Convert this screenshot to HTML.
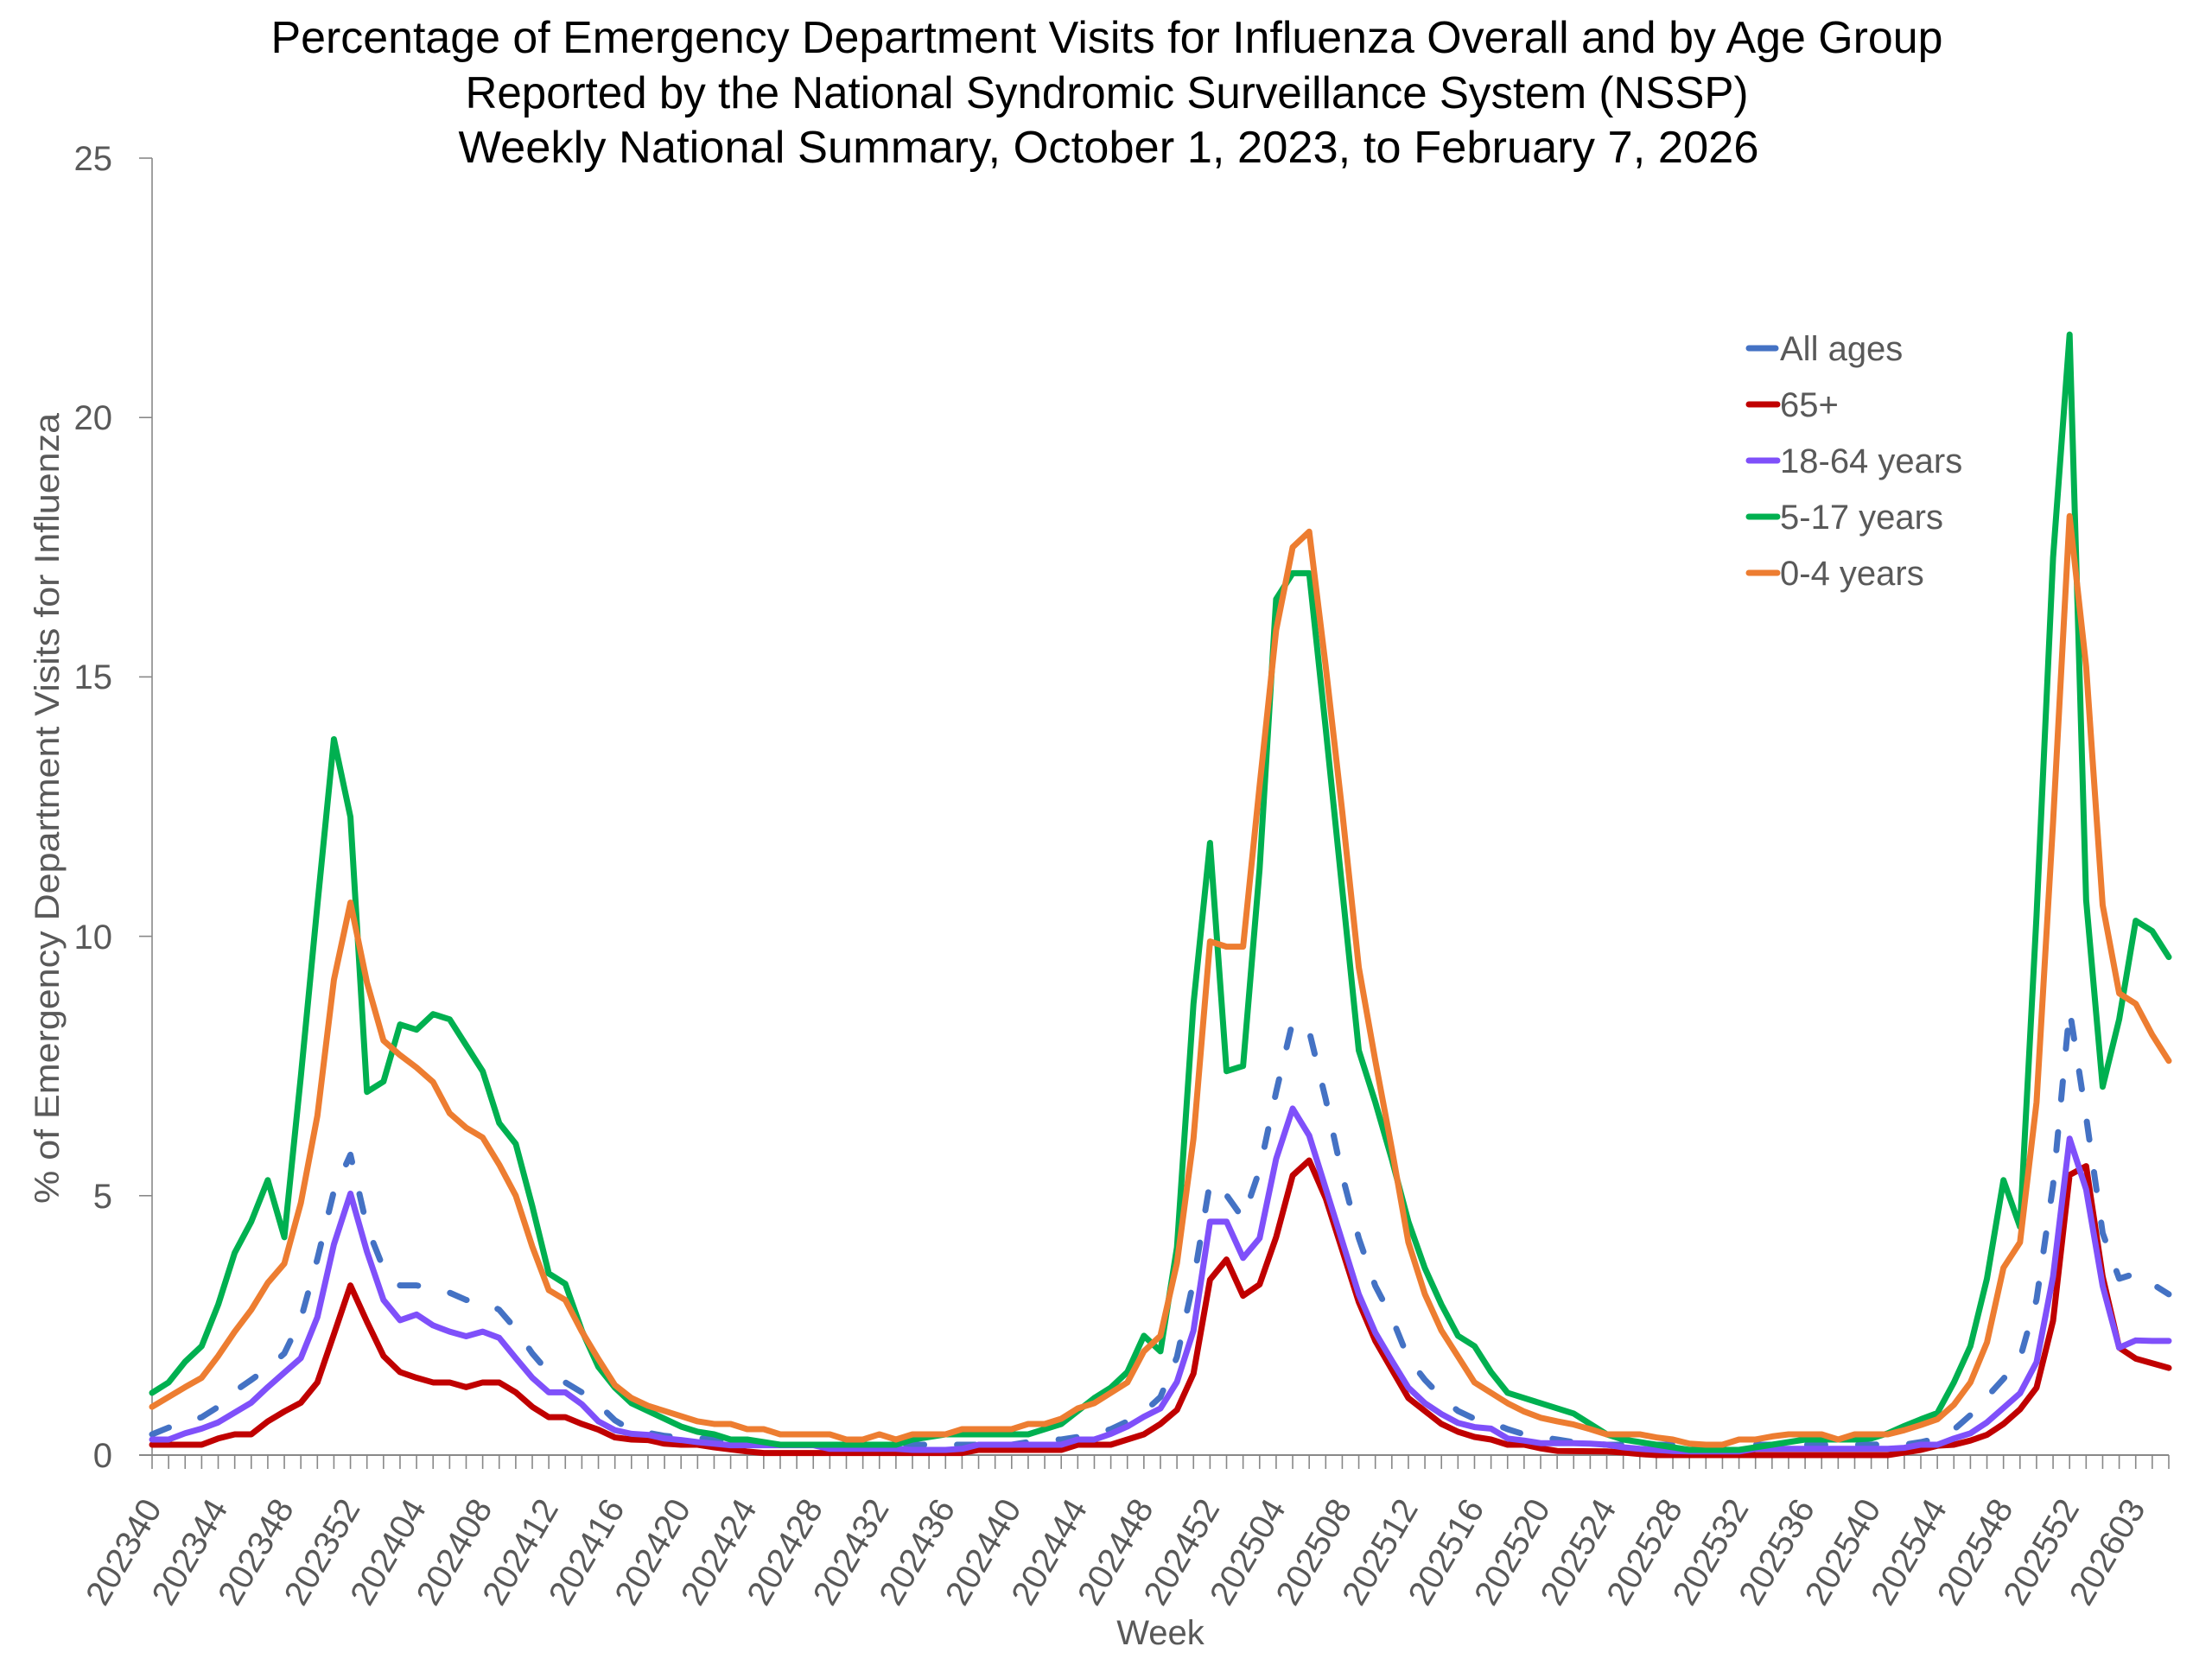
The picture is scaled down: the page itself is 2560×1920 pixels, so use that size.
<!DOCTYPE html>
<html>
<head>
<meta charset="utf-8">
<style>
  html,body{margin:0;padding:0;background:#fff;}
  svg{display:block;}
  text{font-family:"Liberation Sans", Arial, sans-serif;}
</style>
</head>
<body>
<svg width="2560" height="1920" viewBox="0 0 2560 1920" xmlns="http://www.w3.org/2000/svg">
  <rect width="2560" height="1920" fill="#fff"/>

  <!-- Title -->
  <g fill="#000" font-size="52" text-anchor="middle">
    <text x="1281" y="61" textLength="1935" lengthAdjust="spacingAndGlyphs">Percentage of Emergency Department Visits for Influenza Overall and by Age Group</text>
    <text x="1281" y="125" textLength="1485" lengthAdjust="spacingAndGlyphs">Reported by the National Syndromic Surveillance System (NSSP)</text>
    <text x="1283" y="188" textLength="1505" lengthAdjust="spacingAndGlyphs">Weekly National Summary, October 1, 2023, to February 7, 2026</text>
  </g>

  <!-- Y axis title -->
  <text transform="translate(68,935.5) rotate(-90)" text-anchor="middle" font-size="40" fill="#595959" textLength="915" lengthAdjust="spacingAndGlyphs">% of Emergency Department Visits for Influenza</text>

  <!-- Axes -->
  <g stroke="#888" stroke-width="1.6" fill="none">
    <line x1="176" y1="183" x2="176" y2="1684"/>
    <line x1="161" y1="1684" x2="2510" y2="1684" stroke-width="2"/>
    <line x1="161" y1="183" x2="176" y2="183"/>
    <line x1="161" y1="483.2" x2="176" y2="483.2"/>
    <line x1="161" y1="783.4" x2="176" y2="783.4"/>
    <line x1="161" y1="1083.6" x2="176" y2="1083.6"/>
    <line x1="161" y1="1383.8" x2="176" y2="1383.8"/>
  </g>
  <!-- x ticks: every week -->
  <line x1="175.2" y1="1692" x2="2512" y2="1692" stroke="#888" stroke-width="16" stroke-dasharray="1.6 17.531"/>

  <!-- Y tick labels -->
  <g font-size="40" fill="#595959" text-anchor="end">
    <text x="130" y="1698">0</text>
    <text x="130" y="1398">5</text>
    <text x="130" y="1098">10</text>
    <text x="130" y="797">15</text>
    <text x="130" y="497">20</text>
    <text x="130" y="197">25</text>
  </g>

  <!-- X tick labels -->
  <g font-size="40" fill="#595959" text-anchor="end">
    <text transform="translate(176,1738) rotate(-60)" dy="14">202340</text>
    <text transform="translate(252.5,1738) rotate(-60)" dy="14">202344</text>
    <text transform="translate(329.0,1738) rotate(-60)" dy="14">202348</text>
    <text transform="translate(405.6,1738) rotate(-60)" dy="14">202352</text>
    <text transform="translate(482.1,1738) rotate(-60)" dy="14">202404</text>
    <text transform="translate(558.6,1738) rotate(-60)" dy="14">202408</text>
    <text transform="translate(635.1,1738) rotate(-60)" dy="14">202412</text>
    <text transform="translate(711.7,1738) rotate(-60)" dy="14">202416</text>
    <text transform="translate(788.2,1738) rotate(-60)" dy="14">202420</text>
    <text transform="translate(864.7,1738) rotate(-60)" dy="14">202424</text>
    <text transform="translate(941.2,1738) rotate(-60)" dy="14">202428</text>
    <text transform="translate(1017.8,1738) rotate(-60)" dy="14">202432</text>
    <text transform="translate(1094.3,1738) rotate(-60)" dy="14">202436</text>
    <text transform="translate(1170.8,1738) rotate(-60)" dy="14">202440</text>
    <text transform="translate(1247.3,1738) rotate(-60)" dy="14">202444</text>
    <text transform="translate(1323.9,1738) rotate(-60)" dy="14">202448</text>
    <text transform="translate(1400.4,1738) rotate(-60)" dy="14">202452</text>
    <text transform="translate(1476.9,1738) rotate(-60)" dy="14">202504</text>
    <text transform="translate(1553.4,1738) rotate(-60)" dy="14">202508</text>
    <text transform="translate(1630.0,1738) rotate(-60)" dy="14">202512</text>
    <text transform="translate(1706.5,1738) rotate(-60)" dy="14">202516</text>
    <text transform="translate(1783.0,1738) rotate(-60)" dy="14">202520</text>
    <text transform="translate(1859.5,1738) rotate(-60)" dy="14">202524</text>
    <text transform="translate(1936.1,1738) rotate(-60)" dy="14">202528</text>
    <text transform="translate(2012.6,1738) rotate(-60)" dy="14">202532</text>
    <text transform="translate(2089.1,1738) rotate(-60)" dy="14">202536</text>
    <text transform="translate(2165.6,1738) rotate(-60)" dy="14">202540</text>
    <text transform="translate(2242.1,1738) rotate(-60)" dy="14">202544</text>
    <text transform="translate(2318.7,1738) rotate(-60)" dy="14">202548</text>
    <text transform="translate(2395.2,1738) rotate(-60)" dy="14">202552</text>
    <text transform="translate(2471.7,1738) rotate(-60)" dy="14">202603</text>
  </g>

  <!-- X axis title -->
  <text x="1343" y="1903" text-anchor="middle" font-size="40" fill="#595959">Week</text>

  <!-- Series (data coords: x = week index, y = percent) -->
  <g transform="matrix(19.131 0 0 -60.04 176 1684)" fill="none" stroke-width="7" stroke-linejoin="round" stroke-linecap="round">
    <!-- All ages (dashed) -->
    <polyline vector-effect="non-scaling-stroke" stroke="#4472C4" stroke-dasharray="21 38" points="0,0.4 1,0.53 2,0.63 3,0.73 4,0.93 5,1.23 6,1.45 7,1.68 8,1.96 9,2.62 10,3.78 11,5.09 12,5.79 13,4.4 14,3.6 15,3.27 16,3.27 17,3.22 18,3.13 19,2.99 20,2.97 21,2.8 22,2.43 23,1.96 24,1.59 25,1.4 26,1.21 27,0.98 28,0.67 29,0.48 30,0.43 31,0.37 32,0.34 33,0.33 34,0.3 35,0.25 36,0.22 37,0.2 38,0.2 39,0.2 40,0.2 41,0.2 42,0.2 43,0.2 44,0.2 45,0.2 46,0.2 47,0.2 48,0.2 49,0.2 50,0.2 51,0.2 52,0.2 53,0.25 54,0.3 55,0.3 56,0.35 57,0.4 58,0.5 59,0.65 60,0.83 61,1.12 62,1.89 63,3.35 64,5.26 65,5.01 66,4.56 67,5.5 68,7.0 69,8.36 70,8.17 71,6.86 72,5.39 73,4.18 74,3.26 75,2.65 76,1.86 77,1.45 78,1.12 79,0.85 80,0.7 81,0.63 82,0.5 83,0.4 84,0.35 85,0.3 86,0.25 87,0.22 88,0.2 89,0.2 90,0.2 91,0.2 92,0.2 93,0.2 94,0.2 95,0.2 96,0.2 97,0.2 98,0.2 99,0.2 100,0.2 101,0.2 102,0.2 103,0.2 104,0.2 105,0.21 106,0.2 107,0.25 108,0.32 109,0.49 110,0.77 111,1.12 112,1.47 113,1.86 114,3.0 115,5.2 116,8.59 117,6.52 118,4.28 119,3.4 120,3.5 121,3.3 122,3.1"/>
    <!-- 65+ -->
    <polyline vector-effect="non-scaling-stroke" stroke="#C00000" points="0,0.2 1,0.2 2,0.2 3,0.2 4,0.32 5,0.4 6,0.4 7,0.65 8,0.84 9,1.01 10,1.4 11,2.33 12,3.27 13,2.57 14,1.91 15,1.6 16,1.49 17,1.4 18,1.4 19,1.31 20,1.4 21,1.4 22,1.21 23,0.93 24,0.73 25,0.73 26,0.6 27,0.49 28,0.34 29,0.3 30,0.29 31,0.22 32,0.2 33,0.2 34,0.15 35,0.11 36,0.07 37,0.04 49,0.04 50,0.1 55,0.1 56,0.2 58,0.2 59,0.3 60,0.4 61,0.6 62,0.87 63,1.57 64,3.38 65,3.77 66,3.07 67,3.29 68,4.2 69,5.39 70,5.68 71,4.95 72,3.95 73,2.95 74,2.2 75,1.65 76,1.1 77,0.85 78,0.6 79,0.45 80,0.35 81,0.3 82,0.2 83,0.2 84,0.13 85,0.08 88,0.07 89,0.05 90,0.02 91,0 105,0 106,0.05 107,0.1 108,0.18 109,0.2 110,0.28 111,0.39 112,0.6 113,0.88 114,1.3 115,2.59 116,5.4 117,5.57 118,3.44 119,2.07 120,1.86 121,1.77 122,1.68"/>
    <!-- 18-64 -->
    <polyline vector-effect="non-scaling-stroke" stroke="#7F50FA" points="0,0.3 1,0.3 2,0.42 3,0.51 4,0.63 5,0.82 6,1.01 7,1.31 8,1.59 9,1.87 10,2.66 11,4.06 12,5.04 13,3.92 14,2.99 15,2.6 16,2.71 17,2.5 18,2.38 19,2.29 20,2.38 21,2.26 22,1.87 23,1.49 24,1.21 25,1.21 26,0.98 27,0.65 28,0.48 29,0.41 30,0.39 31,0.32 32,0.29 33,0.25 34,0.22 35,0.19 40,0.19 41,0.12 45,0.12 46,0.1 48,0.1 49,0.12 50,0.2 55,0.2 56,0.3 57,0.3 58,0.41 59,0.55 60,0.74 61,0.9 62,1.41 63,2.4 64,4.5 65,4.5 66,3.8 67,4.18 68,5.71 69,6.68 70,6.16 71,5.14 72,4.12 73,3.1 74,2.36 75,1.82 76,1.3 77,1.0 78,0.79 79,0.62 80,0.54 81,0.51 82,0.32 83,0.28 84,0.23 86,0.23 87,0.22 88,0.2 89,0.15 90,0.12 91,0.1 92,0.08 93,0.07 96,0.07 97,0.12 105,0.12 106,0.14 107,0.2 108,0.2 109,0.32 110,0.42 111,0.63 112,0.91 113,1.19 114,1.79 115,3.44 116,6.1 117,5.12 118,3.26 119,2.07 120,2.21 121,2.2 122,2.2"/>
    <!-- 5-17 -->
    <polyline vector-effect="non-scaling-stroke" stroke="#00B050" points="0,1.2 1,1.4 2,1.8 3,2.1 4,2.9 5,3.9 6,4.5 7,5.3 8,4.2 9,7.3 10,10.6 11,13.8 12,12.3 13,7.0 14,7.2 15,8.3 16,8.2 17,8.5 18,8.4 19,7.9 20,7.4 21,6.4 22,6.0 23,4.8 24,3.5 25,3.3 26,2.4 27,1.7 28,1.3 29,1.0 30,0.85 31,0.7 32,0.55 33,0.45 34,0.4 35,0.3 36,0.3 37,0.25 38,0.2 45,0.2 46,0.3 47,0.35 48,0.4 53,0.4 54,0.5 55,0.6 56,0.85 57,1.1 58,1.3 59,1.6 60,2.3 61,2.0 62,4.0 63,8.7 64,11.8 65,7.4 66,7.5 67,11.3 68,16.5 69,17.0 70,17.0 71,14.0 72,10.9 73,7.8 74,6.8 75,5.7 76,4.5 77,3.6 78,2.9 79,2.3 80,2.1 81,1.6 82,1.2 83,1.1 84,1.0 85,0.9 86,0.8 87,0.6 88,0.4 89,0.3 90,0.25 91,0.2 92,0.15 93,0.1 96,0.1 97,0.15 98,0.2 99,0.25 100,0.3 103,0.3 104,0.32 105,0.42 106,0.56 107,0.69 108,0.81 109,1.4 110,2.1 111,3.4 112,5.3 113,4.4 114,10.4 115,17.3 116,21.6 117,10.7 118,7.1 119,8.4 120,10.3 121,10.1 122,9.6"/>
    <!-- 0-4 -->
    <polyline vector-effect="non-scaling-stroke" stroke="#ED7D31" points="0,0.93 1,1.12 2,1.31 3,1.49 4,1.91 5,2.38 6,2.8 7,3.32 8,3.69 9,4.86 10,6.54 11,9.16 12,10.65 13,9.11 14,7.99 15,7.71 16,7.47 17,7.19 18,6.59 19,6.31 20,6.12 21,5.6 22,5.0 23,4.02 24,3.18 25,2.99 26,2.38 27,1.85 28,1.35 29,1.1 30,0.95 31,0.85 32,0.75 33,0.65 34,0.6 35,0.6 36,0.5 37,0.5 38,0.4 41,0.4 42,0.3 43,0.3 44,0.4 45,0.3 46,0.4 48,0.4 49,0.5 52,0.5 53,0.6 54,0.6 55,0.7 56,0.9 57,1.0 58,1.2 59,1.4 60,2.0 61,2.3 62,3.7 63,6.1 64,9.9 65,9.8 66,9.8 67,12.9 68,15.9 69,17.5 70,17.8 71,15.2 72,12.4 73,9.4 74,7.6 75,5.9 76,4.1 77,3.1 78,2.4 79,1.9 80,1.4 81,1.2 82,1.0 83,0.84 84,0.72 85,0.65 86,0.59 87,0.5 88,0.4 90,0.4 91,0.34 92,0.3 93,0.22 94,0.2 95,0.2 96,0.3 97,0.3 98,0.36 99,0.4 101,0.4 102,0.3 103,0.4 105,0.4 106,0.48 107,0.58 108,0.69 109,0.97 110,1.4 111,2.17 112,3.61 113,4.1 114,6.8 115,12.2 116,18.1 117,15.2 118,10.6 119,8.9 120,8.7 121,8.1 122,7.6"/>
  </g>

  <!-- Legend -->
  <g stroke-width="7" stroke-linecap="round">
    <line x1="2024" y1="403" x2="2055" y2="403" stroke="#4472C4"/>
    <line x1="2024" y1="468" x2="2057" y2="468" stroke="#C00000"/>
    <line x1="2024" y1="533" x2="2057" y2="533" stroke="#7F50FA"/>
    <line x1="2024" y1="598" x2="2057" y2="598" stroke="#00B050"/>
    <line x1="2024" y1="663" x2="2057" y2="663" stroke="#ED7D31"/>
  </g>
  <g font-size="40" fill="#595959">
    <text x="2060" y="417">All ages</text>
    <text x="2060" y="482">65+</text>
    <text x="2060" y="547">18-64 years</text>
    <text x="2060" y="612">5-17 years</text>
    <text x="2060" y="677">0-4 years</text>
  </g>
</svg>
</body>
</html>
